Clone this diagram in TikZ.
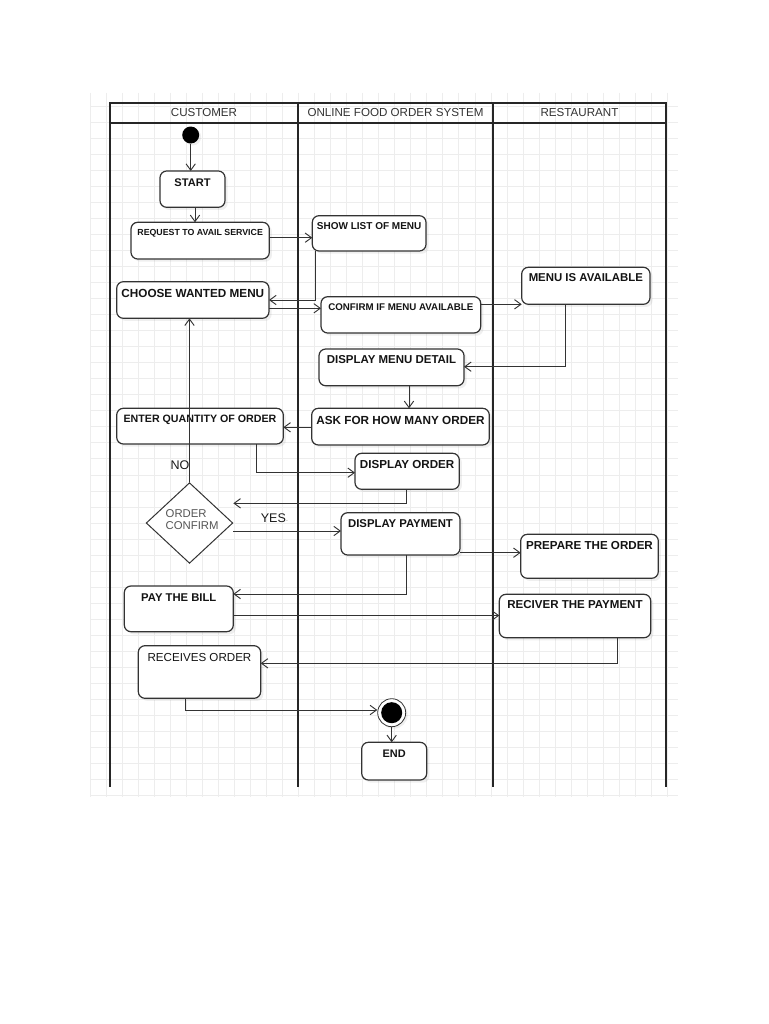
\documentclass[tikz,border=0pt]{standalone}
\usepackage{fontspec}
\setmainfont{Liberation Sans}
\usetikzlibrary{arrows.meta,shapes.geometric,shadows}
\definecolor{gridc}{HTML}{EDEDED}
\definecolor{linec}{HTML}{333333}
\definecolor{txtgray}{HTML}{555555}
\newcommand\mybox[8]{%
  \pgfmathsetmacro\bxw{(#4-#2)*0.75}%
  \pgfmathsetmacro\bxh{(#6-#3)*0.75+0.345*#7}%
  \pgfmathsetmacro\bxd{(#5-#3)*0.75-\bxh}%
  \node[actbox, minimum width=\bxw pt, text height=\bxh pt, text depth=\bxd pt,
        anchor=north west, font=\bfseries\fontsize{#7}{#7}\selectfont] (#1) at (#2,#3) {#8};%
}
\begin{document}
\begin{tikzpicture}[x=0.75pt,y=-0.75pt,
  actbox/.style={draw=linec, line width=0.9pt, rounded corners=5pt, fill=white,
    inner sep=0pt, outer sep=0pt, text=black!92,
    drop shadow={shadow xshift=2pt,shadow yshift=-2pt,opacity=0.12}},
  conn/.style={draw=linec, line width=0.75pt,
    -{Straight Barb[length=4.8pt,width=7pt,line width=0.7pt]}},
  gridl/.style={draw=gridc, line width=0.6pt},
  lane/.style={draw=black!85, line width=1.6pt},
  hdr/.style={font=\fontsize{8.7}{8.7}\selectfont, text=black!80, inner sep=0pt},
  lbl/.style={font=\fontsize{9.4}{9.4}\selectfont, text=black!90, inner sep=0pt}]
\useasboundingbox (0,0) rectangle (768,1024);
\fill[white] (0,0) rectangle (768,1024);
% grid
\foreach \k in {0,...,36} \draw[gridl] (90.2+\k*16.03,93) -- (90.2+\k*16.03,797);
\foreach \k in {1,...,44} \draw[gridl] (90,90.2+\k*16.03) -- (678,90.2+\k*16.03);
% swimlanes
\draw[lane] (110,787) -- (110,103) -- (666,103) -- (666,787);
\draw[lane] (110,122.7) -- (666,122.7);
\draw[lane] (298,103) -- (298,787);
\draw[lane] (493,103) -- (493,787);
\node[hdr] (h1) at (204,112.8) {CUSTOMER};
\node[hdr] (h2) at (395.5,112.8) {ONLINE FOOD ORDER SYSTEM};
\node[hdr] (h3) at (579.5,112.8) {RESTAURANT};
% initial and final
\node[circle, fill=black, minimum size=12.75pt, inner sep=0pt,
  drop shadow={shadow xshift=1.5pt,shadow yshift=-1.5pt,opacity=0.12}] (init) at (190.7,135) {};
\node[circle, draw=linec, line width=0.6pt, fill=white, minimum size=21pt, inner sep=0pt,
  drop shadow={shadow xshift=1.5pt,shadow yshift=-1.5pt,opacity=0.12},
  path picture={\fill[black] (path picture bounding box.center) circle (7.9pt);}] (fin) at (391.7,712.7) {};
% activity boxes
\mybox{start}{160}{171}{225}{207.3}{182.3}{8.3}{START}
\mybox{req}{131}{222.3}{269.3}{259}{232.3}{6.6}{REQUEST TO AVAIL SERVICE}
\mybox{show}{312.3}{215.7}{426}{251}{225.7}{7.5}{SHOW LIST OF MENU}
\mybox{choose}{116.7}{281.7}{269}{318.3}{293.3}{8.8}{CHOOSE WANTED MENU}
\mybox{confirm}{321}{296.7}{480.7}{333}{306.7}{7.3}{CONFIRM IF MENU AVAILABLE}
\mybox{menu}{521.7}{267.3}{650}{304.3}{277.7}{8.55}{MENU IS AVAILABLE}
\mybox{dmd}{319}{349}{464}{385.7}{360}{8.6}{DISPLAY MENU DETAIL}
\mybox{ask}{311.7}{408.3}{489.3}{445}{420}{8.8}{ASK FOR HOW MANY ORDER}
\mybox{enter}{116.7}{408.3}{283.3}{444}{419}{8.0}{ENTER QUANTITY OF ORDER}
\mybox{dord}{355}{453.3}{459.3}{489.3}{464.3}{8.7}{DISPLAY ORDER}
\mybox{dpay}{341}{512.7}{460}{555}{523.3}{8.5}{DISPLAY PAYMENT}
\mybox{prep}{520.7}{534.3}{658.3}{578.3}{545.7}{8.7}{PREPARE THE ORDER}
\mybox{pay}{124.3}{586}{233.3}{631.7}{597.3}{8.45}{PAY THE BILL}
\mybox{recv}{499.3}{594.3}{650.7}{637.7}{605}{8.65}{RECIVER THE PAYMENT}
\mybox{rec}{138.3}{645.7}{260.7}{698.3}{657.3}{8.7}{\mdseries RECEIVES ORDER}
\mybox{endn}{361.7}{742.3}{426.7}{780}{753.3}{8.2}{END}
% decision
\node[diamond, draw=linec, line width=0.75pt, fill=white, minimum width=65pt,
  minimum height=60.5pt, inner sep=0pt,
  label={[align=left, text=txtgray, inner sep=0pt, font=\fontsize{8.5}{9}\selectfont,
          xshift=2pt, yshift=2.2pt]center:ORDER\\CONFIRM}] (dec) at (189.5,523) {};
\node[lbl] (nolab) at (180,465) {NO};
\node[lbl] (yeslab) at (274.5,518.3) {YES\textcolor{black!35}{\fontsize{5}{5}\selectfont-}};
% connectors
\draw[conn] (init.south) -- (init.south |- start.north);
\draw[conn] (start.south -| 195,0) -- (req.north -| 195,0);
\draw[conn] (req.east |- 0,237.7) -- (show.west |- 0,237.7);
\draw[conn] (show.south -| 315,0) |- (choose.east |- 0,300);
\draw[conn] (choose.east |- 0,308.3) -- (confirm.west |- 0,308.3);
\draw[conn] (confirm.east |- 0,304.3) -- (menu.west |- 0,304.3);
\draw[conn] (menu.south -| 565.7,0) |- (dmd.east |- 0,366.7);
\draw[conn] (dmd.south -| 409,0) -- (ask.north -| 409,0);
\draw[conn] (ask.west |- 0,427.3) -- (enter.east |- 0,427.3);
\draw[conn] (enter.south -| 256.7,0) |- (dord.west |- 0,472.7);
\draw[conn] (dord.south -| 406.7,0) |- (dec.east |- 0,503.3);
\draw[conn] (dec.north) -- (dec.north |- choose.south);
\draw[conn] (dec.east |- 0,531) -- (dpay.west |- 0,531);
\draw[conn] (dpay.east |- 0,552.7) -- (prep.west |- 0,552.7);
\draw[conn] (dpay.south -| 406.7,0) |- (pay.east |- 0,594);
\draw[conn] (pay.east |- 0,615.5) -- (recv.west |- 0,615.5);
\draw[conn] (recv.south -| 617.3,0) |- (rec.east |- 0,663.3);
\draw[conn] (rec.south -| 185,0) |- (fin.west |- 0,710);
\draw[conn] (fin.south) -- (fin.south |- endn.north);
\end{tikzpicture}
\end{document}
